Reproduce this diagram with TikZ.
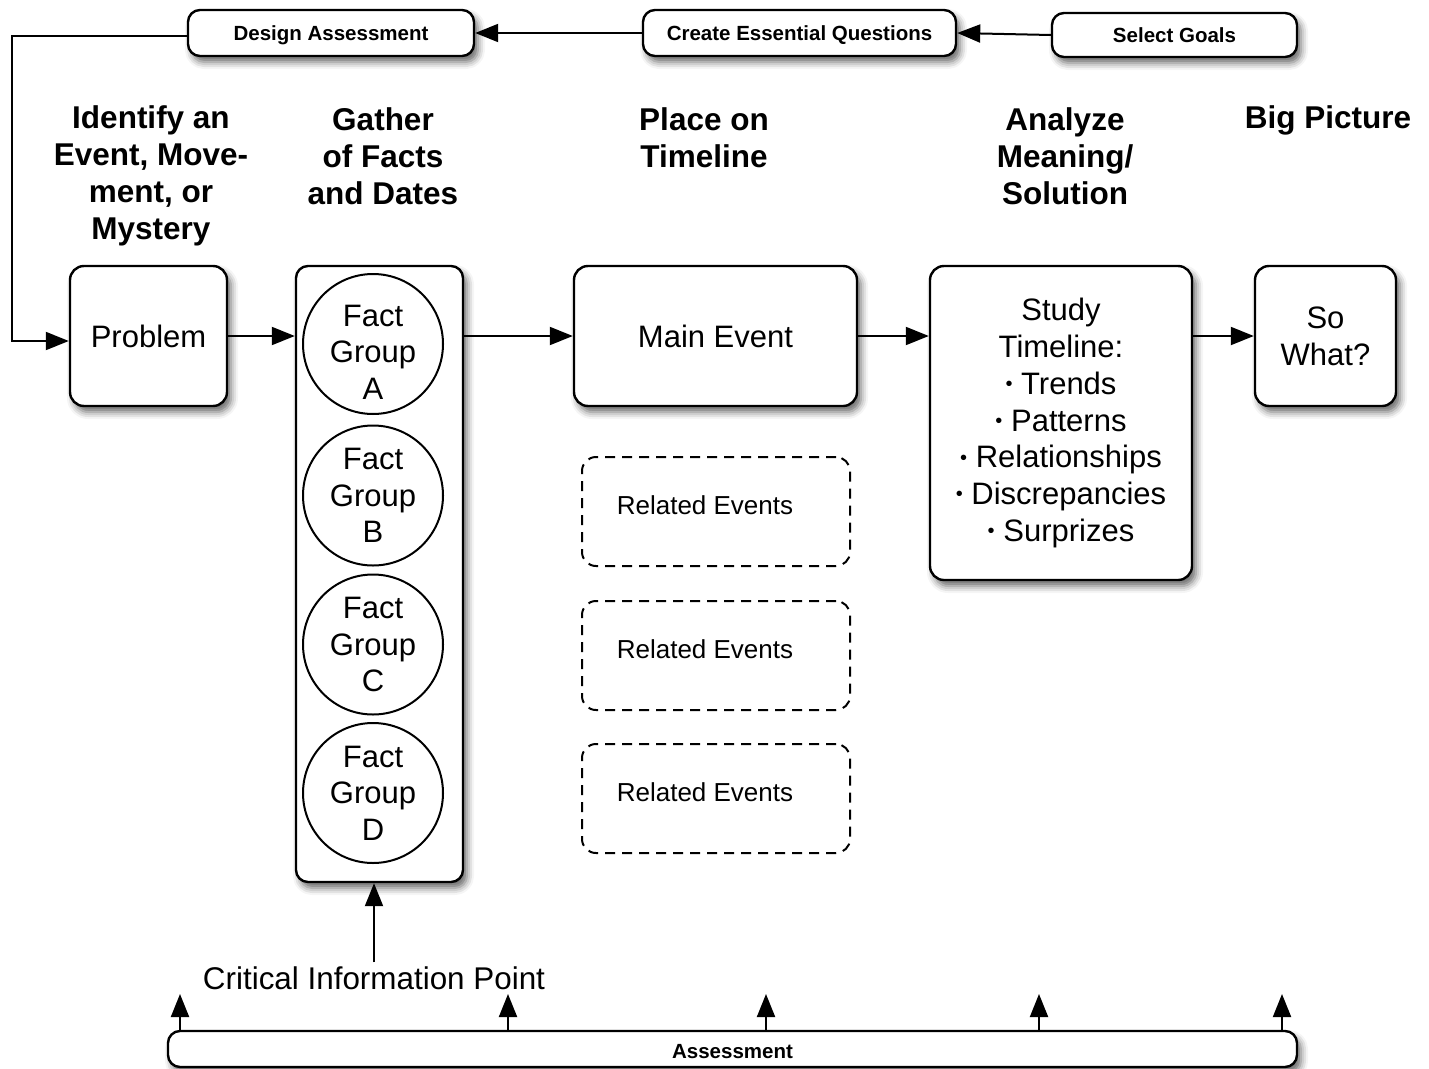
\documentclass[tikz,border=0pt]{standalone}
\usepackage{fontspec}
\setmainfont{Liberation Sans}
\usetikzlibrary{arrows.meta,shadows.blur}

% a small raised bullet for the list inside the study box
\newcommand\listdot{\raisebox{3.5pt}{\fontsize{20}{20}\selectfont\textbullet}}

\tikzset{
  shadowed/.style={blur shadow={shadow xshift=4pt, shadow yshift=-6pt,
      shadow blur radius=7pt, shadow opacity=60}},
  bigbox/.style={draw, line width=2.4pt, rounded corners=14pt, fill=white,
      shadowed, inner sep=0pt, align=center,
      font=\fontsize{31}{36.7}\selectfont},
  tagbox/.style={draw, line width=2.4pt, rounded corners=12pt, fill=white,
      shadowed, inner sep=0pt, align=center, text height=15pt, text depth=0pt,
      font=\fontsize{20.5}{24}\selectfont\bfseries},
  relbox/.style={draw, line width=2pt, rounded corners=14pt,
      dash pattern=on 10pt off 7pt, inner sep=0pt,
      minimum width=268pt, minimum height=109pt},
  reltext/.style={inner sep=0pt, font=\fontsize{26}{30}\selectfont},
  factcircle/.style={circle, draw, line width=2pt, minimum size=140pt, inner sep=0pt},
  facttext/.style={inner sep=0pt, align=center, font=\fontsize{31}{36.5}\selectfont},
  heading/.style={align=center, inner sep=0pt,
      font=\fontsize{31.5}{37}\selectfont\bfseries},
  arr/.style={line width=2pt, -{Triangle[length=23pt,width=18pt]}},
}

\begin{document}
\begin{tikzpicture}[x=1pt,y=-1pt]
\useasboundingbox (0,0) rectangle (1429,1068);

% planning steps along the top
\node[tagbox, minimum width=286pt, minimum height=46pt] (design) at (331,33) {Design Assessment};
\node[tagbox, minimum width=313pt, minimum height=46pt] (essential) at (799.5,33) {Create Essential Questions};
\node[tagbox, minimum width=245pt, minimum height=44pt] (goals) at (1174.5,35) {Select Goals};

% column headings
\node[heading] (h1) at (151,175.5) {Identify an\\Event, Move-\\ment, or\\Mystery};
\node[heading] (h2) at (383,156.5) {Gather\\of Facts\\and Dates};
\node[heading] (h3) at (704,138) {Place on\\Timeline};
\node[heading] (h4) at (1065,156.5) {Analyze\\Meaning/\\Solution};
\node[heading] (h5) at (1328,120) {Big Picture};

% main flow
\node[bigbox, minimum width=157pt, minimum height=140pt] (problem) at (148.5,336) {Problem};
\node[bigbox, rounded corners=12pt, minimum width=167pt, minimum height=616pt] (facts) at (379.5,574) {};
\foreach \n/\cy/\dy in {A/344/-8,B/495.5/0,C/644.5/0,D/793/0} {
  \node[factcircle] (f\n) at (373,\cy) {};
  \node[facttext] (f\n text) at ([yshift=\dy pt]f\n.center) {Fact\\Group\\\n};
}
\node[bigbox, minimum width=283pt, minimum height=140pt] (main) at (715.5,336) {Main Event};
\node[bigbox, minimum width=262pt, minimum height=314pt] (study) at (1061,423)
  {Study\\Timeline:\\\listdot{} Trends\\\listdot{} Patterns\\\listdot{} Relationships\\\listdot{} Discrepancies\\\listdot{} Surprizes};
\node[bigbox, minimum width=141pt, minimum height=140pt] (sowhat) at (1325.5,336) {So\\What?};

% related events
\foreach \n/\cy in {1/511.5,2/655.5,3/798.5} {
  \node[relbox] (rel\n) at (716,\cy) {};
  \node[reltext] (rel\n text) at ([xshift=-11pt,yshift=6pt]rel\n.center) {Related Events};
}

% assessment bar and critical point
\node[font=\fontsize{31.4}{36}\selectfont, inner sep=0pt] (cip) at (374,978) {Critical Information Point};
\node[tagbox, minimum width=1129pt, minimum height=36pt, text height=18pt] (assess) at (732.5,1049) {Assessment};

% connectors
\draw[arr] (goals.west) -- (essential.east);
\draw[arr] (essential.west) -- (design.east);
\coordinate (loop) at (12,36);
\draw[arr] ([yshift=-3pt]design.west) -- ([yshift=-3pt]design.west -| loop) |- ([yshift=-5pt]problem.west);
\draw[arr] (problem.east) -- (problem.east -| facts.west);
\draw[arr] (main.west -| facts.east) -- (main.west);
\draw[arr] (main.east) -- (main.east -| study.west);
\draw[arr] (sowhat.west -| study.east) -- (sowhat.west);
\draw[arr] ([yshift=4pt]cip.north) -- (cip.north |- facts.south);

\foreach \px/\n in {180/a,508/b,766/c,1039/d,1282/e} {
  \coordinate (tip\n) at (\px,994);
  \draw[arr] (tip\n |- assess.north) -- (tip\n);
}
\end{tikzpicture}
\end{document}
